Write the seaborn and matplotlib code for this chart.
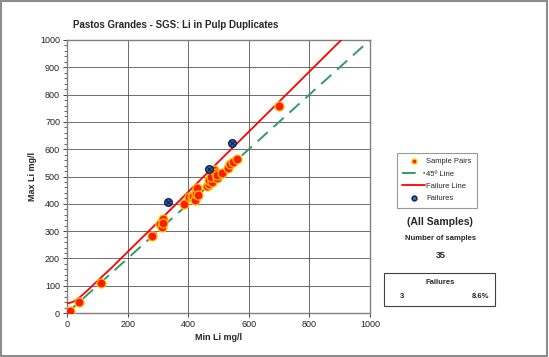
import numpy as np
import pandas as pd
import seaborn as sns
import matplotlib.pyplot as plt
from matplotlib.patches import Rectangle
from matplotlib.lines import Line2D
from matplotlib.ticker import MultipleLocator

# duplicate pairs (min, max), mg/l
min_li = [10, 41, 113, 279, 307, 312, 318, 316, 387, 403, 411, 417, 422, 425, 425, 428,
          431, 461, 469, 468, 479, 474, 486, 491, 494, 496, 511, 532, 538, 548, 561, 700]
max_li = [8, 39, 112, 282, 325, 316, 343, 330, 399, 424, 426, 430, 414, 444, 437, 457,
          432, 465, 472, 487, 481, 497, 524, 514, 493, 505, 514, 530, 545, 552, 563, 760]

fail_min = [334, 469, 545]
fail_max = [405, 527, 624]

# reference lines
line45_x = [0, 1000]
line45_y = [0, 1000]
failline_x = [0, 20, 40, 60, 100, 150, 200, 300, 500, 700, 905]
failline_y = [35, 41, 56, 75, 117, 169, 224, 333, 554, 774, 1000]

n_samples = 35
n_fail = 3

sns.set_style("white")
plt.rcParams['font.family'] = ['Liberation Sans', 'DejaVu Sans']

fig = plt.figure(figsize=(5.49, 3.57), dpi=100)
ax = fig.add_axes([0.122, 0.123, 0.552, 0.765])

df_pairs = pd.DataFrame({"min": min_li, "max": max_li})
df_fail = pd.DataFrame({"min": fail_min, "max": fail_max})

sns.lineplot(x=line45_x, y=line45_y, ax=ax, color="#339966", linewidth=1.4,
             dashes=False, linestyle=(0, (7, 4)), zorder=2)
sns.lineplot(x=failline_x, y=failline_y, ax=ax, color="#ff0000", linewidth=1.3,
             zorder=3)
sns.scatterplot(data=df_pairs, x="min", y="max", ax=ax, color="#ff1a00",
                edgecolor="#ffc000", linewidth=0.9, s=42, zorder=4)
sns.scatterplot(data=df_fail, x="min", y="max", ax=ax, color="#2f6fc7",
                edgecolor="#10204a", linewidth=1.0, s=30, zorder=5)
sns.scatterplot(data=df_fail, x="min", y="max", ax=ax, color="#10204a",
                marker="x", linewidth=0.9, s=9, zorder=6)

ax.set_xlim(0, 1000)
ax.set_ylim(0, 1000)
ax.xaxis.set_major_locator(MultipleLocator(200))
ax.yaxis.set_major_locator(MultipleLocator(100))
ax.yaxis.set_minor_locator(MultipleLocator(20))
ax.grid(True, which="major", color="#555555", linewidth=0.6)
ax.tick_params(axis="both", which="major", labelsize=6.5, length=3, width=0.6,
               direction="out", bottom=True, left=True, pad=2, labelcolor="#222222")
ax.tick_params(axis="y", which="minor", length=2, width=0.5, direction="out", left=True)
for sp in ax.spines.values():
    sp.set_color("#808080")
    sp.set_linewidth(1.0)
ax.set_xlabel("Min Li mg/l", fontsize=6.5, fontweight="bold", labelpad=3)
ax.set_ylabel("Max Li mg/l", fontsize=6.5, fontweight="bold", labelpad=2)

fig.text(0.32, 0.930, "Pastos Grandes - SGS: Li in Pulp Duplicates", ha="center",
         va="center", fontsize=7, fontweight="bold")

handles = [
    Line2D([], [], color="none", marker="o", markerfacecolor="#ff1a00",
           markeredgecolor="#ffc000", markersize=3.5),
    Line2D([], [], color="#339966", linewidth=1.4, linestyle=(0, (7, 4))),
    Line2D([], [], color="#ff0000", linewidth=1.3),
    Line2D([], [], color="none", marker="o", markerfacecolor="#2f6fc7",
           markeredgecolor="#10204a", markersize=3.5),
]
labels = ["Sample Pairs", "45º Line", "Failure Line", "Failures"]
leg = fig.legend(handles, labels, loc="upper left", bbox_to_anchor=(0.723, 0.572),
                 fontsize=5.5, frameon=True, fancybox=False, borderpad=0.7,
                 labelspacing=0.65, handlelength=3.0, handletextpad=0.15, borderaxespad=0)
leg.get_frame().set_edgecolor("#808080")
leg.get_frame().set_linewidth(0.8)

fig.text(0.802, 0.378, "(All Samples)", ha="center", va="center", fontsize=7.5,
         fontweight="bold")
fig.text(0.802, 0.332, "Number of samples", ha="center", va="center", fontsize=5.5,
         fontweight="bold")
fig.text(0.802, 0.285, str(n_samples), ha="center", va="center", fontsize=6.5,
         fontweight="bold")

fig.patches.append(Rectangle((0.700, 0.142), 0.202, 0.094, transform=fig.transFigure,
                             facecolor="white", edgecolor="#404040", linewidth=0.8))
fig.text(0.802, 0.210, "Failures", ha="center", va="center", fontsize=5.5,
         fontweight="bold")
fig.text(0.732, 0.170, str(n_fail), ha="center", va="center", fontsize=5.5,
         fontweight="bold")
fig.text(0.876, 0.170, f"{n_fail / n_samples * 100:.1f}%", ha="center", va="center",
         fontsize=5.5, fontweight="bold")

fig.patches.append(Rectangle((0.002, 0.004), 0.994, 0.992, transform=fig.transFigure,
                             facecolor="none", edgecolor="#8c8c8c", linewidth=1.5))

fig.savefig("out.png", dpi=100)
